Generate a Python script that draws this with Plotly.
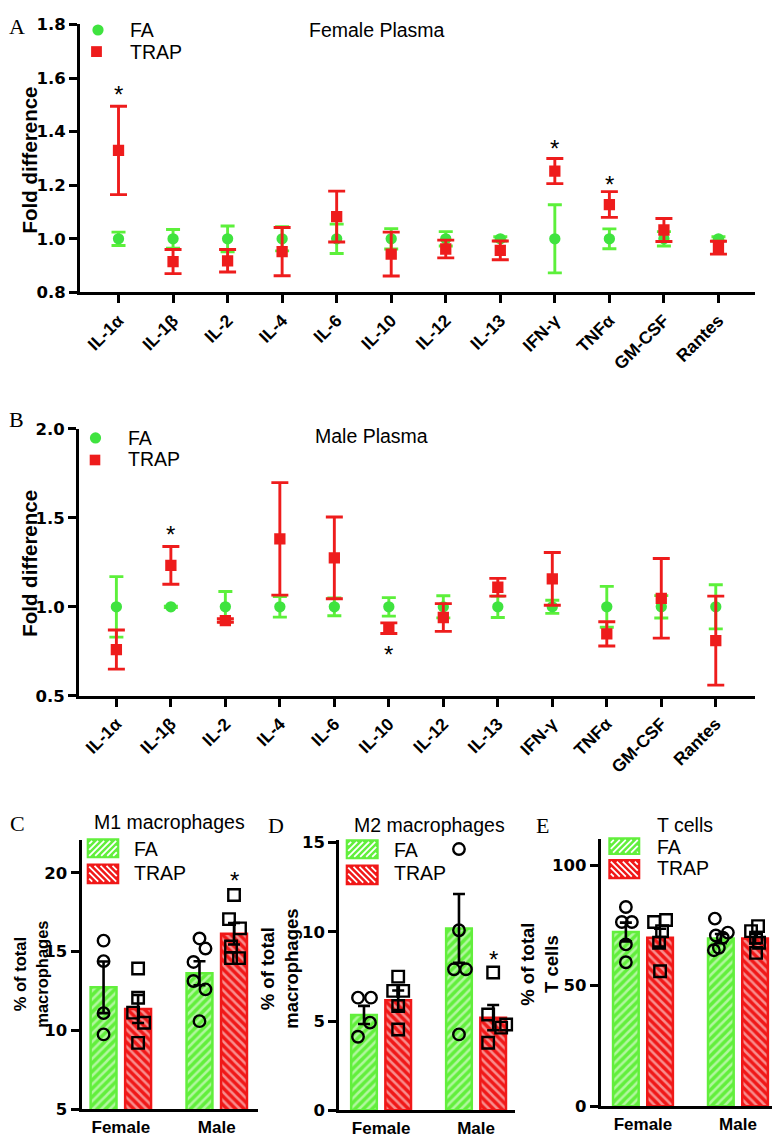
import plotly.graph_objects as go

# ---------------- DATA ----------------
cytokines = ["IL-1α", "IL-1β", "IL-2", "IL-4", "IL-6", "IL-10", "IL-12", "IL-13",
             "IFN-γ", "TNFα", "GM-CSF", "Rantes"]

# Panel A: Female plasma (fold difference, mean and error)
fa_female_mean = [1.0, 1.0, 1.0, 1.0, 1.0, 1.0, 1.0, 1.0, 1.0, 1.0, 1.0, 1.0]
fa_female_err = [0.025, 0.035, 0.048, 0.045, 0.055, 0.038, 0.027, 0.008, 0.127, 0.037, 0.027, 0.008]
trap_female_mean = [1.33, 0.915, 0.918, 0.952, 1.083, 0.943, 0.962, 0.957, 1.253, 1.128, 1.033, 0.967]
trap_female_err = [0.165, 0.045, 0.042, 0.09, 0.095, 0.082, 0.033, 0.035, 0.047, 0.048, 0.043, 0.024]
female_star_cats = ["IL-1α", "IFN-γ", "TNFα"]
female_star_vals = [1.557, 1.357, 1.222]

# Panel B: Male plasma
fa_male_mean = [1.0, 1.0, 1.0, 1.0, 1.0, 1.0, 1.0, 1.0, 1.0, 1.0, 1.0, 1.0]
fa_male_err = [0.17, 0.004, 0.086, 0.058, 0.05, 0.052, 0.062, 0.06, 0.037, 0.115, 0.063, 0.124]
trap_male_mean = [0.76, 1.233, 0.923, 1.382, 1.275, 0.88, 0.94, 1.11, 1.157, 0.848, 1.048, 0.81]
trap_male_err = [0.11, 0.106, 0.01, 0.316, 0.23, 0.03, 0.078, 0.05, 0.148, 0.068, 0.224, 0.25]
male_star_cats = ["IL-1β", "IL-10"]
male_star_vals = [1.435, 0.758]

groups = ["Female", "Male"]

# Panel C: M1 macrophages (% of total macrophages)
m1_fa_mean = [12.74, 13.63]
m1_fa_sem = [1.64, 0.76]
m1_trap_mean = [11.36, 16.14]
m1_trap_sem = [0.89, 0.68]
m1_fa_points = [[15.7, 14.4, 11.1, 9.75], [15.84, 15.2, 14.35, 13.14, 12.61, 10.59]]
m1_trap_points = [[13.93, 12.08, 11.13, 10.49, 9.21], [18.6, 17.07, 16.48, 15.33, 14.59, 14.59]]
m1_star_val = 19.84

# Panel D: M2 macrophages
m2_fa_mean = [5.34, 10.19]
m2_fa_sem = [0.51, 1.93]
m2_trap_mean = [6.16, 5.19]
m2_trap_sem = [0.55, 0.71]
m2_fa_points = [[6.31, 6.31, 4.91, 4.12], [14.64, 10.09, 7.9, 7.9, 4.25]]
m2_trap_points = [[7.49, 6.69, 6.69, 5.84, 4.53], [7.72, 5.37, 4.81, 4.63, 3.78]]
m2_star_val = 8.74

# Panel E: T cells (% of total T cells)
t_fa_mean = [72.25, 69.5]
t_fa_sem = [3.9, 1.9]
t_trap_mean = [69.9, 69.5]
t_trap_sem = [3.7, 2.0]
t_fa_points = [[82.6, 76.4, 76.4, 67.1, 59.7], [77.8, 70.8, 72.0, 69.9, 65.7, 64.7]]
t_trap_points = [[76.4, 77.2, 72.6, 67.8, 56.0], [74.7, 72.6, 69.9, 67.8, 63.6]]

# ---------------- STYLE / LAYOUT ----------------
W, H = 780, 1145
SANS = "Liberation Sans, Arial, Helvetica, sans-serif"
NUM = "DejaVu Sans, Liberation Sans, Arial, sans-serif"
SERIF = "Liberation Serif, Times New Roman, serif"
GREEN = "#3fe33f"
GREEN_LINE = "#5cf03a"
RED = "#ee1c1c"
BAR_GREEN = "#62ef3c"
BAR_RED = "#f01818"

# horizontal jitter of the dots, in pixels
m1_fa_jit = [[0, 0, 0, 0], [0, 6, -6, -6, 6, 0]]
m1_trap_jit = [[0, 0, -5, 6, 0], [0, -5, 6, -3, -3, 5]]
m2_fa_jit = [[-6, 7, 6, -6], [0, 0, -5, 7, 0]]
m2_trap_jit = [[0, -5, 5, 0, 0], [0, -5, 13, 8, -5]]
t_fa_jit = [[0, -4, 6, 0, 0], [-6, -5, 7, 2, -2, -7]]
t_trap_jit = [[-6, 6, 2, -1, 0], [3, -4, 1, 4, 1]]

BAR_OFF = 0.18
BAR_W = 0.27

# page placement of the figure (body margin / screenshot fit), measured
SX, OX = 1.0, 8.0
SY, OY = 0.98, 17.9


def lx(x):
    return x / SX - OX


def ly(y):
    return y / SY - OY


def px(x):
    return min(1.0, max(0.0, lx(x) / W))


def py(y):
    return min(1.0, max(0.0, 1 - ly(y) / H))


def pxa(x):
    return lx(x) / W


def pya(y):
    return 1 - ly(y) / H


fig = go.Figure()

# ---- Panels A & B: dot + error plots ----
for xa, ya, fam, fae, tm, te in [("x", "y", fa_female_mean, fa_female_err, trap_female_mean, trap_female_err),
                                 ("x2", "y2", fa_male_mean, fa_male_err, trap_male_mean, trap_male_err)]:
    fig.add_trace(go.Scatter(
        x=cytokines, y=fam, mode="markers", xaxis=xa, yaxis=ya, showlegend=False,
        marker=dict(symbol="circle", size=11.3, color=GREEN),
        error_y=dict(type="data", array=fae, color=GREEN_LINE, thickness=2.9, width=7)))
    fig.add_trace(go.Scatter(
        x=cytokines, y=tm, mode="markers", xaxis=xa, yaxis=ya, showlegend=False,
        marker=dict(symbol="square", size=11.3, color=RED),
        error_y=dict(type="data", array=te, color=RED, thickness=2.9, width=8.5)))


# ---- Panels C, D, E: bar + dots ----
def bar_panel(xa, ya, fa_m, fa_s, tr_m, tr_s, fa_pts, tr_pts, fa_jit, tr_jit, ppu):
    gx = list(range(len(groups)))
    for means, sems, col, shape, off in [(fa_m, fa_s, BAR_GREEN, "/", -BAR_OFF),
                                         (tr_m, tr_s, BAR_RED, "\\", BAR_OFF)]:
        fig.add_trace(go.Bar(
            x=[g + off for g in gx], y=means, width=BAR_W, xaxis=xa, yaxis=ya, showlegend=False,
            marker=dict(color=col, line=dict(color=col, width=2.5),
                        pattern=dict(shape=shape, fgcolor="white", bgcolor=col, size=6, solidity=0.42)),
            error_y=dict(type="data", array=sems, color="black", thickness=2.6, width=6)))
    for pts, jit, sym, off in [(fa_pts, fa_jit, "circle-open", -BAR_OFF),
                               (tr_pts, tr_jit, "square-open", BAR_OFF)]:
        xs, ys = [], []
        for g, (vals, js) in enumerate(zip(pts, jit)):
            for v, j in zip(vals, js):
                xs.append(g + off + j / ppu)
                ys.append(v)
        fig.add_trace(go.Scatter(
            x=xs, y=ys, mode="markers", xaxis=xa, yaxis=ya, showlegend=False,
            marker=dict(symbol=sym, size=11.5, color="black", line=dict(width=2.4, color="black"))))


bar_panel("x3", "y3", m1_fa_mean, m1_fa_sem, m1_trap_mean, m1_trap_sem,
          m1_fa_points, m1_trap_points, m1_fa_jit, m1_trap_jit, 96)
bar_panel("x4", "y4", m2_fa_mean, m2_fa_sem, m2_trap_mean, m2_trap_sem,
          m2_fa_points, m2_trap_points, m2_fa_jit, m2_trap_jit, 95)
bar_panel("x5", "y5", t_fa_mean, t_fa_sem, t_trap_mean, t_trap_sem,
          t_fa_points, t_trap_points, t_fa_jit, t_trap_jit, 95)

# ---------------- axes ----------------
AX = dict(showline=True, linewidth=3, linecolor="black", ticks="outside", ticklen=8,
          tickwidth=3, tickcolor="black", showgrid=False, zeroline=False)


def yaxis(dom_px, rng, tick0, dtick, anchor, fmt=None, fs=16.5):
    d = dict(AX, domain=[py(dom_px[0]), py(dom_px[1])], range=rng, tickmode="linear",
             tick0=tick0, dtick=dtick, anchor=anchor,
             tickfont=dict(family=NUM, size=fs, color="black", weight="bold"))
    if fmt:
        d["tickformat"] = fmt
    return d


def xcat(dom_px, rng, anchor):
    return dict(AX, domain=[px(dom_px[0]), px(dom_px[1])], type="category",
                categoryorder="array", categoryarray=cytokines, range=rng, anchor=anchor,
                tickangle=-45, tickfont=dict(family=SANS, size=17.5, color="black", weight="bold"))


def xgrp(dom_px, rng, anchor):
    return dict(AX, domain=[px(dom_px[0]), px(dom_px[1])], range=rng, anchor=anchor,
                tickmode="array", tickvals=list(range(len(groups))), ticktext=groups,
                ticks="", tickfont=dict(family=SANS, size=17, color="black", weight="bold"))


layout = dict(
    width=W, height=H, margin=dict(l=0, r=0, t=0, b=0),
    paper_bgcolor="white", plot_bgcolor="white", showlegend=False, barmode="overlay",
    xaxis=xcat((80, 755), [-0.706, 11.67], "y"),
    yaxis=yaxis((292, 25), [0.8, 1.8], 0.8, 0.2, "x", ".1f"),
    xaxis2=xcat((79, 755), [-0.686, 11.72], "y2"),
    yaxis2=yaxis((694, 428), [0.5, 2.0], 0.5, 0.5, "x2", ".1f"),
    xaxis3=xgrp((81.5, 258), [-0.41, 1.43], "y3"),
    yaxis3=yaxis((1106, 838), [5, 22.07], 5, 5, "x3"),
    xaxis4=xgrp((339.3, 515), [-0.44, 1.41], "y4"),
    yaxis4=yaxis((1107, 838), [0, 15.13], 0, 5, "x4"),
    xaxis5=xgrp((600.7, 775), [-0.445, 1.39], "y5"),
    yaxis5=yaxis((1103, 836.7), [0, 110.8], 0, 50, "x5"),
)
fig.update_layout(**layout)

# ---------------- annotations ----------------
ann = []


def text(x, y, s, size, family=SANS, bold=False, xanchor="center", angle=0):
    ann.append(dict(xref="paper", yref="paper", x=pxa(x), y=pya(y), text=s, showarrow=False,
                    xanchor=xanchor, yanchor="middle", textangle=angle,
                    font=dict(family=family, size=size, color="black",
                              weight="bold" if bold else "normal")))


# panel letters
for lab, x, y in [("A", 17, 27), ("B", 16, 419), ("C", 17, 821), ("D", 275.5, 823), ("E", 542.5, 823)]:
    text(x, y, lab, 22, family=SERIF)

# titles
text(376.5, 30, "Female Plasma", 19.5)
text(371.6, 435, "Male Plasma", 19.5)
text(169.5, 820, "M1 macrophages", 19.5)
text(429, 823, "M2 macrophages", 19.5)
text(684.7, 823, "T cells", 19.5)

# y-axis titles
text(29.5, 160, "Fold difference", 20.5, bold=True, angle=-90)
text(29.5, 562, "Fold difference", 20.5, bold=True, angle=-90)
text(31, 972, "% of total<br>macrophages", 16.5, bold=True, angle=-90)
text(280, 966, "% of total<br>macrophages", 18.5, bold=True, angle=-90)
text(540, 962, "% of total<br>T cells", 18.5, bold=True, angle=-90)

# legends A/B text
text(128, 30.5, "FA", 19.5, xanchor="left")
text(128, 52, "TRAP", 19.5, xanchor="left")
text(126, 437, "FA", 19.5, xanchor="left")
text(126, 458, "TRAP", 19.5, xanchor="left")

# legends C/D/E text
text(132, 847, "FA", 19.5, xanchor="left")
text(132, 871, "TRAP", 19.5, xanchor="left")
text(392, 847.5, "FA", 19.5, xanchor="left")
text(392, 871, "TRAP", 19.5, xanchor="left")
text(655, 845, "FA", 19.5, xanchor="left")
text(655, 866, "TRAP", 19.5, xanchor="left")

# significance stars
STAR = dict(showarrow=False, text="*", yshift=-5, font=dict(family=SANS, size=24, color="black"))
for c, v in zip(female_star_cats, female_star_vals):
    ann.append(dict(STAR, xref="x", yref="y", x=c, y=v))
for c, v in zip(male_star_cats, male_star_vals):
    ann.append(dict(STAR, xref="x2", yref="y2", x=c, y=v))
ann.append(dict(STAR, xref="x3", yref="y3", x=1 + BAR_OFF, y=m1_star_val))
ann.append(dict(STAR, xref="x4", yref="y4", x=1 + BAR_OFF, y=m2_star_val))

fig.update_layout(annotations=ann)

# ---------------- legend swatches (shapes) ----------------
shapes = []


def circle(cx, cy, r, col):
    shapes.append(dict(type="circle", xref="paper", yref="paper", x0=pxa(cx - r), x1=pxa(cx + r),
                       y0=pya(cy + r), y1=pya(cy - r), fillcolor=col, line=dict(width=0)))


def square(cx, cy, r, col):
    shapes.append(dict(type="rect", xref="paper", yref="paper", x0=pxa(cx - r), x1=pxa(cx + r),
                       y0=pya(cy + r), y1=pya(cy - r), fillcolor=col, line=dict(width=0)))


def swatch(x0, y0, x1, y1, col, direction, step=6):
    shapes.append(dict(type="rect", xref="paper", yref="paper", x0=pxa(x0), x1=pxa(x1),
                       y0=pya(y1), y1=pya(y0), fillcolor=col, line=dict(color=col, width=2)))
    a0, b0, a1, b1 = x0 + 1.5, y0 + 1.5, x1 - 1.5, y1 - 1.5
    segs = []
    if direction == "/":
        c = a0 + b0 + step / 2
        while c < a1 + b1:
            lo, hi = max(a0, c - b1), min(a1, c - b0)
            if hi > lo:
                segs.append(((lo, c - lo), (hi, c - hi)))
            c += step
    else:
        c = a0 - b1 + step / 2
        while c < a1 - b0:
            lo, hi = max(a0, b0 + c), min(a1, b1 + c)
            if hi > lo:
                segs.append(((lo, lo - c), (hi, hi - c)))
            c += step
    path = " ".join(f"M{pxa(p[0]):.5f},{pya(p[1]):.5f} L{pxa(q[0]):.5f},{pya(q[1]):.5f}" for p, q in segs)
    shapes.append(dict(type="path", xref="paper", yref="paper", path=path,
                       line=dict(color="white", width=1.8)))


circle(98, 30.5, 5.6, GREEN)
square(96.5, 52, 5.4, RED)
circle(95.5, 437, 5.6, GREEN)
square(95, 459, 5.3, RED)

swatch(87.7, 837, 118.3, 855, BAR_GREEN, "/")
swatch(87.7, 862, 118.3, 880.7, BAR_RED, "\\")
swatch(346.7, 838, 377.7, 856, BAR_GREEN, "/")
swatch(346.7, 863, 377.7, 881.7, BAR_RED, "\\")
swatch(609.3, 836, 639.3, 851.7, BAR_GREEN, "/")
swatch(609.3, 857.7, 639.3, 875.7, BAR_RED, "\\")

fig.update_layout(shapes=shapes)

fig.write_html("out.html")
